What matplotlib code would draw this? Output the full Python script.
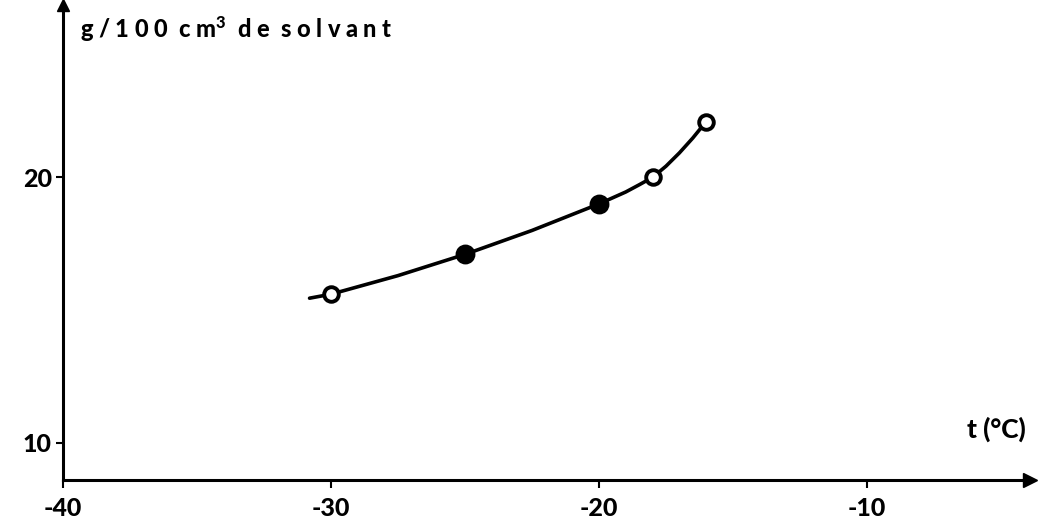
import matplotlib.pyplot as plt

# mesures de solubilite
t_mes = [-30, -25, -20, -18, -16]
g_mes = [15.6, 17.1, 19.0, 20.0, 22.1]
plein = [False, True, True, False, False]

# trace de la courbe lissee
t_courbe = [-30.8, -30, -27.5, -25, -22.5, -20, -19, -18.5, -18, -17.5, -17, -16.5, -16]
g_courbe = [15.45, 15.6, 16.3, 17.1, 18.0, 19.0, 19.45, 19.72, 20.0, 20.42, 20.92, 21.48, 22.1]

x_ticks = [-40, -30, -20, -10]
x_labels = ['-40', '-30', '-20', '-10']
y_ticks = [10, 20]

plt.rcParams['font.family'] = ['Lato', 'DejaVu Sans']
plt.rcParams['font.weight'] = 'black'
plt.rcParams['mathtext.default'] = 'regular'

fig = plt.figure(figsize=(10.38, 5.27), dpi=100)
ax = fig.add_axes([0.0607, 0.089, 0.932, 0.902])
ax.set_xlim(-40, -3.9)
ax.set_ylim(8.6, 26.5)

ax.plot(t_courbe, g_courbe, color='black', lw=2.6, solid_capstyle='round',
        solid_joinstyle='round', zorder=2)
for t, g, p in zip(t_mes, g_mes, plein):
    ax.plot(t, g, 'o', ms=11.5 if p else 10.5, mfc='black' if p else 'white',
            mec='black', mew=2.8, zorder=3)

for s in ['top', 'right']:
    ax.spines[s].set_visible(False)
for s in ['left', 'bottom']:
    ax.spines[s].set_linewidth(2.2)

# fleches au bout des axes
ax.plot(1, 0, '>k', ms=10, transform=ax.transAxes, clip_on=False)
ax.plot(0, 1, '^k', ms=8, transform=ax.transAxes, clip_on=False)

ax.set_xticks(x_ticks)
ax.set_xticklabels(x_labels, fontsize=18, fontweight='black')
ax.set_yticks(y_ticks)
ax.set_yticklabels([str(v) for v in y_ticks], fontsize=18, fontweight='black')
ax.tick_params(axis='x', direction='out', length=6, width=1.5, pad=6)
ax.tick_params(axis='y', direction='out', length=5, width=1.5, pad=3)

ax.text(0.018, 0.98, r'g / 1 0 0  c m$^{3}$  d e  s o l v a n t', transform=ax.transAxes,
        fontsize=17, fontweight='black', va='top', ha='left')
ax.text(0.995, 0.08, 't (°C)', transform=ax.transAxes,
        fontsize=19, fontweight='black', va='bottom', ha='right')

fig.savefig('out.png', dpi=100)
